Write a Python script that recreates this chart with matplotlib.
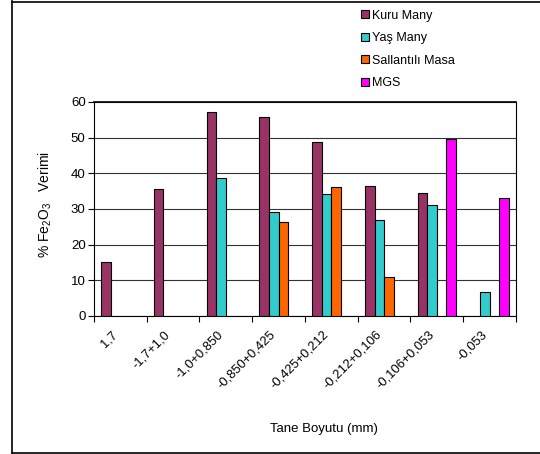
import numpy as np
import matplotlib.pyplot as plt
import matplotlib.transforms as mtransforms
from matplotlib.patches import Patch
from matplotlib.lines import Line2D

plt.rcParams['font.family'] = ['Liberation Sans', 'DejaVu Sans']
plt.rcParams['mathtext.fontset'] = 'custom'
plt.rcParams['mathtext.rm'] = 'Liberation Sans'
plt.rcParams['mathtext.it'] = 'Liberation Sans'

# tane boyutu sınıfları
boyutlar = ['1,7', '-1,7+1,0', '-1,0+0,850', '-0,850+0,425', '-0,425+0,212',
            '-0,212+0,106', '-0,106+0,053', '-0,053']

# Fe2O3 verimi (%), 0 = çubuk yok
kuru_many = [15.0, 35.7, 57.1, 55.8, 48.7, 36.4, 34.5, 0]
yas_many = [0, 0, 38.6, 29.2, 34.1, 26.8, 31.0, 6.7]
sallantili_masa = [0, 0, 0, 26.3, 36.1, 10.9, 0, 0]
mgs = [0, 0, 0, 0, 0, 0, 49.7, 33.0]

seriler = ['Kuru Many', 'Yaş Many', 'Sallantılı Masa', 'MGS']
renkler = ['#993366', '#33CCCC', '#FF6600', '#FF00FF']
veriler = [kuru_many, yas_many, sallantili_masa, mgs]

fig = plt.figure(figsize=(5.4, 4.54), dpi=100)
ax = fig.add_axes([0.174, 0.304, 0.7815, 0.4714])

x = np.arange(len(boyutlar))
w = 1 / 5.5
for i, (ad, renk, deger) in enumerate(zip(seriler, renkler, veriler)):
    deger = np.array(deger, dtype=float)
    m = deger > 0
    ax.bar(x[m] + (i - 1.5) * w, deger[m], width=w, color=renk,
           edgecolor='black', linewidth=0.8, zorder=3)

ax.set_xlim(-0.5, len(boyutlar) - 0.5)
ax.set_ylim(0, 60)
ax.set_yticks(np.arange(0, 61, 10))
ax.yaxis.grid(True, color='#333333', linewidth=0.8, zorder=0)
ax.tick_params(axis='y', labelsize=9.5, length=4, width=0.8, pad=2)

ax.set_xticks(np.arange(-0.5, len(boyutlar)), labels=[])
ax.tick_params(axis='x', which='major', length=4, width=0.8)
ax.set_xticks(x, labels=boyutlar, minor=True)
ax.tick_params(axis='x', which='minor', length=0, labelsize=9.3, pad=9)
kaydir = mtransforms.ScaledTranslation(-9 / 100, 0, fig.dpi_scale_trans)
for lbl in ax.get_xticklabels(minor=True):
    lbl.set_rotation(45)
    lbl.set_ha('right')
    lbl.set_va('top')
    lbl.set_rotation_mode('anchor')
    lbl.set_transform(lbl.get_transform() + kaydir)

for s in ax.spines.values():
    s.set_linewidth(0.8)
ax.spines['top'].set_linewidth(1.2)

ax.set_ylabel('% Fe$_2$O$_3$   Verimi', fontsize=10)
ax.yaxis.set_label_coords(-0.094, 0.523)
ax.set_xlabel('Tane Boyutu (mm)', fontsize=9.5)
ax.xaxis.set_label_coords(0.545, -0.5)

tutamaclar = [Patch(facecolor=r, edgecolor='black', linewidth=0.8) for r in renkler]
fig.legend(tutamaclar, seriler, loc='upper left', bbox_to_anchor=(361 / 540, 0.979),
           frameon=False, fontsize=9, handlelength=0.6, handleheight=0.6,
           handletextpad=0.3, labelspacing=0.84, borderpad=0, borderaxespad=0)

# dış çerçeve
fig.add_artist(Line2D([12 / 540, 12 / 540], [1 - 1 / 454, 1 - 453 / 454],
                      transform=fig.transFigure, color='black', linewidth=1.2))
fig.add_artist(Line2D([12 / 540, 1], [1 - 1.5 / 454, 1 - 1.5 / 454],
                      transform=fig.transFigure, color='black', linewidth=1.2))
fig.add_artist(Line2D([12 / 540, 1], [1 - 452.5 / 454, 1 - 452.5 / 454],
                      transform=fig.transFigure, color='black', linewidth=1.2))

fig.savefig('out.png', dpi=100)
